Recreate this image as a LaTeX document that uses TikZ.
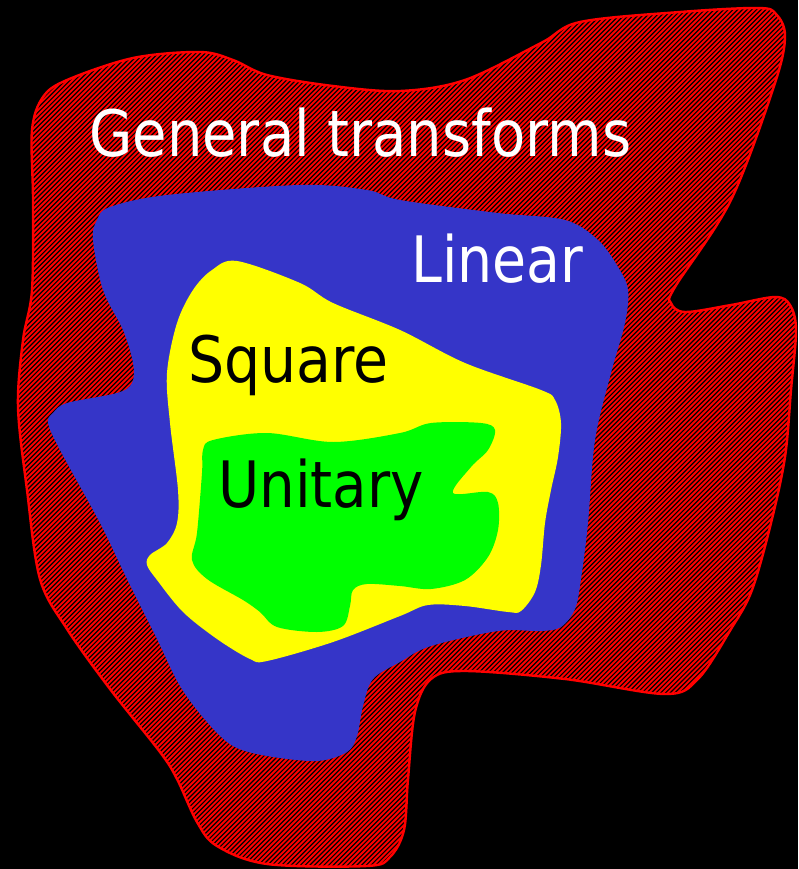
\documentclass[tikz,border=0pt]{standalone}
\usepackage{fontspec}
\setmainfont{DejaVu Sans}
\usepackage{graphicx}
\definecolor{blueset}{HTML}{3535C8}
\definecolor{yellowset}{HTML}{FFFF00}
\definecolor{greenset}{HTML}{00FF00}
\definecolor{redset}{HTML}{FF0000}
\tikzset{
  lbl/.style={anchor=base west, inner sep=0pt, font=\fontsize{64}{70}\selectfont},
}
\begin{document}
\begin{tikzpicture}[x=1pt,y=-1pt]
\fill[black] (0,0) rectangle (798,869);
\useasboundingbox (0,0) rectangle (798,869);
\def\redpath{plot[smooth cycle, tension=0.55] coordinates {
 (32,130) (43,97) (67,80) (133,58) (200,52) (233,60) (267,75) (333,86) (400,91)
 (465,80) (541,43) (580,22) (680,12) (758,8) (776,14) (785,36) (775,83)
 (731,200) (675,287) (671,303) (685,312) (731,305) (775,297) (790,305) (796,330)
 (791,390) (785,457) (771,523) (752,590) (731,629) (698,679) (665,694) (565,679)
 (465,671) (431,679) (415,712) (408,779) (404,830) (390,857) (367,866) (267,864)
 (217,846) (197,822) (177,779) (160,752) (110,689) (67,629) (40,579) (27,490)
 (18,407) (23,340) (32,290) (33,200)}}
% general transforms region: red with black hatching
\fill[redset] \redpath;
\begin{scope}
  \clip \redpath;
  \foreach \c in {0,4.7,...,1750} {
    \draw[black, line width=1.15pt] (\c,0) -- ({\c-900},900);
  }
\end{scope}
\draw[redset, line width=2.4pt] \redpath;
% linear
\fill[blueset] plot[smooth cycle, tension=0.55] coordinates {
 (97,220) (110,207) (167,195) (300,185) (367,190) (400,200) (498,213) (565,220)
 (598,240) (618,267) (628,290) (625,323) (611,373) (595,440) (588,523) (581,579)
 (575,609) (561,627) (541,631) (498,631) (431,646) (400,662) (373,679) (363,706)
 (357,736) (347,752) (317,761) (267,756) (233,746) (207,722) (180,686) (157,639)
 (127,579) (100,523) (60,450) (48,423) (53,413) (67,403) (117,393) (132,383)
 (133,363) (123,330) (103,290) (93,240)};
% square
\fill[yellowset] plot[smooth cycle, tension=0.55] coordinates {
 (237,261) (300,283) (333,303) (400,330) (465,363) (541,390) (555,400) (561,423)
 (558,457) (551,490) (545,523) (541,565) (535,592) (521,611) (508,612) (465,606)
 (428,605) (400,616) (333,642) (267,661) (250,659) (217,639) (183,612) (157,580)
 (147,565) (150,555) (167,543) (177,523) (178,490) (170,423) (167,373) (177,323)
 (193,290) (212,270)};
% unitary
\fill[greenset] plot[smooth cycle, tension=0.55] coordinates {
 (203,450) (213,440) (267,433) (333,442) (400,433) (431,423) (481,423) (495,430)
 (488,450) (471,467) (453,493) (488,492) (498,503) (498,530) (488,557) (465,580)
 (431,589) (400,586) (367,584) (353,590) (350,606) (343,626) (317,632) (277,627)
 (260,612) (243,600) (207,579) (192,560) (197,533) (202,473)};
% labels
\node[lbl, text=white] (gen) at (89,157) {\scalebox{0.875}[1]{General transforms}};
\node[lbl, text=white] (lin) at (411,282) {\scalebox{0.865}[1]{Linear}};
\node[lbl, text=black] (sq) at (188,382) {\scalebox{0.89}[1]{Square}};
\node[lbl, text=black] (un) at (218,507) {\scalebox{0.88}[1]{Unitary}};
\end{tikzpicture}
\end{document}
